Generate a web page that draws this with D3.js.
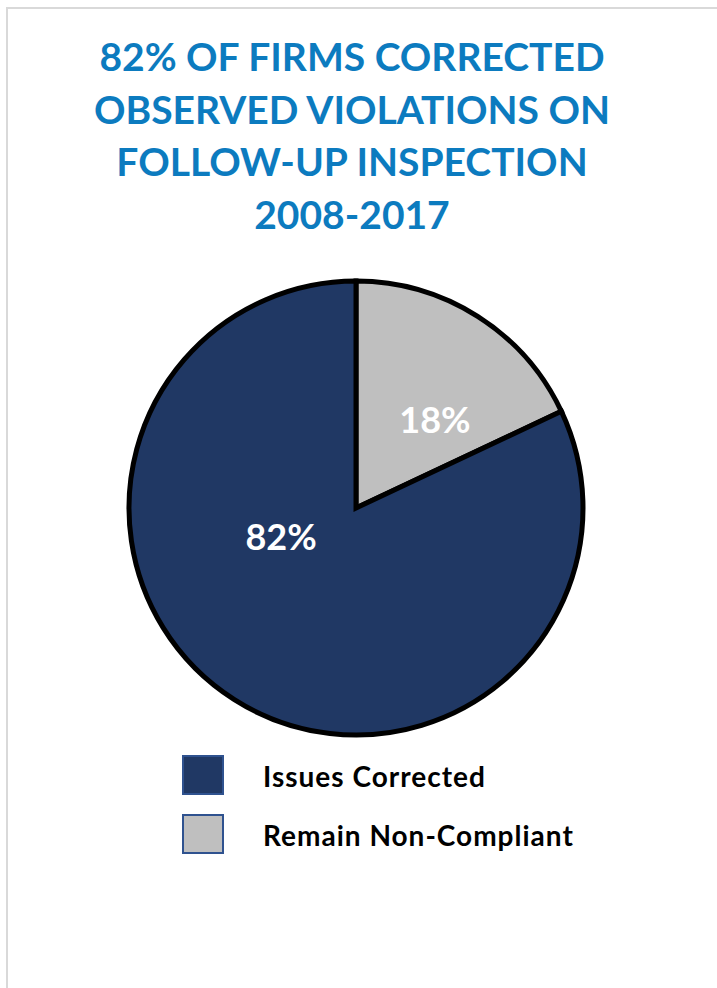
<!DOCTYPE html>
<html>
<head>
<meta charset="utf-8">
<script src="https://cdn.jsdelivr.net/npm/d3@7"></script>
<style>
  body { margin: 0; background: #fff; }
  text { font-family: Lato, "Open Sans", sans-serif; font-weight: bold; }
</style>
</head>
<body>
<svg width="717" height="988"></svg>
<script>
const titleLines = ["82% OF FIRMS CORRECTED", "OBSERVED VIOLATIONS ON", "FOLLOW-UP INSPECTION", "2008-2017"];
const categories = ["Remain Non-Compliant", "Issues Corrected"];
const values = [18, 82];
const legendOrder = ["Issues Corrected", "Remain Non-Compliant"];

const svg = d3.select("svg");
const width = +svg.attr("width");
const height = +svg.attr("height");

const color = d3.scaleOrdinal()
    .domain(categories)
    .range(["#bfbfbf", "#203864"]);

// frame
svg.append("path")
    .attr("d", `M7,${height} V8 H${width}`)
    .attr("fill", "none")
    .attr("stroke", "#d9d9d9")
    .attr("stroke-width", 2);

// title
svg.append("g")
    .selectAll("text")
    .data(titleLines)
    .enter()
    .append("text")
    .attr("x", 352)
    .attr("y", (d, i) => 71 + i * 52.5)
    .attr("text-anchor", "middle")
    .attr("fill", "#0c7bbf")
    .attr("font-size", 39)
    .text(d => d);

// pie
const cx = 356, cy = 508, r = 227;
const pie = d3.pie().sort(null).value(d => d.value);
const arc = d3.arc().innerRadius(0).outerRadius(r);
const arcs = pie(categories.map((c, i) => ({ name: c, value: values[i] })));

const g = svg.append("g").attr("transform", `translate(${cx},${cy})`);
g.selectAll("path")
    .data(arcs)
    .enter()
    .append("path")
    .attr("d", arc)
    .attr("fill", d => color(d.data.name))
    .attr("stroke", "#000")
    .attr("stroke-width", 5)
    .attr("stroke-linejoin", "miter");

const labelPos = [[79, -88], [-75, 29]];
g.selectAll(".lbl")
    .data(arcs)
    .enter()
    .append("text")
    .attr("class", "lbl")
    .attr("x", (d, i) => labelPos[i][0])
    .attr("y", (d, i) => labelPos[i][1])
    .attr("text-anchor", "middle")
    .attr("dy", "0.35em")
    .attr("fill", "#fff")
    .attr("font-size", 36)
    .text(d => d.data.value + "%");

// legend
const legend = svg.append("g")
    .selectAll("g")
    .data(legendOrder)
    .enter()
    .append("g")
    .attr("transform", (d, i) => `translate(183,${756 + i * 59})`);
legend.append("rect")
    .attr("width", 40)
    .attr("height", 38)
    .attr("fill", d => color(d))
    .attr("stroke", "#2f528f")
    .attr("stroke-width", 2);
legend.append("text")
    .attr("x", 80)
    .attr("y", 21)
    .attr("dy", "0.35em")
    .attr("font-size", 28)
    .attr("letter-spacing", 1)
    .attr("fill", "#000")
    .text(d => d);
</script>
</body>
</html>
